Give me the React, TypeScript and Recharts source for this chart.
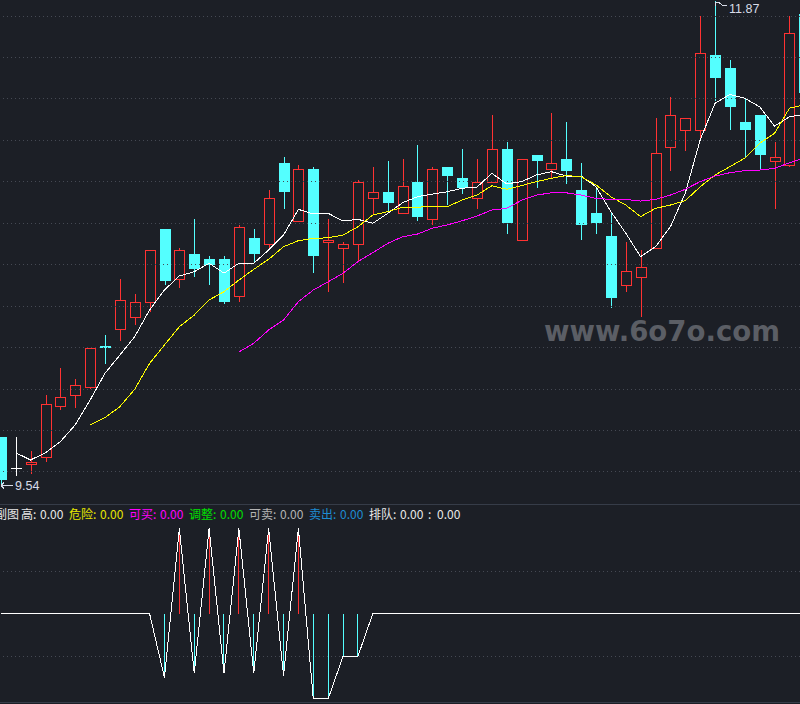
import { ComposedChart, Bar, Line, XAxis, YAxis, ReferenceLine } from 'recharts';

const BG = '#1c1f26';
const GRID_COLOR = '#454953';
const UP = '#ff3232';
const DOWN = '#54ffff';
const FLAT = '#ffffff';
const FRAME = '#363c48';

// daily bars, left to right
const OPEN = [
  9.77, 9.62, 9.64, 9.67, 9.92, 9.97, 10.01, 10.21, 10.29, 10.35, 10.42, 10.77, 10.53, 10.65,
  10.63, 10.63, 10.45, 10.73, 10.7, 11.09, 10.81, 11.06, 10.71, 10.68, 10.7, 10.92, 10.95, 10.85,
  11.0, 10.82, 11.07, 11.02, 10.92, 11.0, 11.16, 10.72, 11.13, 11.06, 11.11, 10.96, 10.85, 10.74,
  10.5, 10.54, 10.68, 11.17, 11.25, 11.25, 11.61, 11.55, 11.29, 11.32, 11.1, 11.08, 11.81,
];
const HIGH = [
  9.77, 9.77, 9.7, 9.97, 10.1, 10.05, 10.2, 10.26, 10.53, 10.46, 10.67, 10.77, 10.68, 10.82,
  10.64, 10.64, 10.79, 10.77, 10.96, 11.12, 11.08, 11.07, 10.82, 10.71, 11.01, 11.07, 11.1, 11.11,
  11.18, 11.07, 11.07, 11.16, 11.11, 11.32, 11.19, 11.11, 11.13, 11.33, 11.29, 11.09, 10.97, 10.85,
  10.71, 10.67, 11.31, 11.41, 11.31, 11.8, 11.87, 11.59, 11.4, 11.32, 11.19, 11.8, 11.83,
];
const LOW = [
  9.54, 9.58, 9.59, 9.65, 9.9, 9.91, 10.0, 10.12, 10.23, 10.31, 10.37, 10.5, 10.49, 10.54,
  10.5, 10.41, 10.42, 10.61, 10.68, 10.87, 10.81, 10.56, 10.47, 10.51, 10.62, 10.84, 10.85, 10.85,
  10.81, 10.79, 10.89, 10.94, 10.87, 11.0, 10.75, 10.72, 10.97, 11.02, 10.99, 10.72, 10.75, 10.39,
  10.47, 10.35, 10.68, 11.05, 11.15, 11.21, 11.39, 11.25, 11.12, 11.06, 10.87, 11.07, 11.4,
];
const CLOSE = [
  9.56, 9.62, 9.65, 9.93, 9.96, 10.02, 10.2, 10.2, 10.43, 10.42, 10.67, 10.52, 10.67, 10.58,
  10.6, 10.42, 10.78, 10.65, 10.92, 10.95, 11.06, 10.64, 10.72, 10.7, 11.0, 10.95, 10.9, 10.98,
  10.83, 11.06, 11.03, 10.97, 11.0, 11.16, 10.8, 11.11, 11.1, 11.09, 11.05, 10.79, 10.8, 10.44,
  10.57, 10.59, 11.14, 11.32, 11.31, 11.62, 11.5, 11.36, 11.25, 11.13, 11.12, 11.72, 11.43,
];

// the three average lines
const LINE_WHITE = [
  null, 9.693, 9.658, 9.693, 9.746, 9.827, 9.947, 10.076, 10.164, 10.253, 10.382, 10.478, 10.546,
  10.566, 10.607, 10.559, 10.607, 10.607, 10.671, 10.743, 10.867, 10.845, 10.848, 10.811, 10.819,
  10.8, 10.848, 10.899, 10.928, 10.941, 10.952, 10.969, 10.974, 11.041, 10.99, 11.001, 11.033,
  11.049, 11.028, 11.028, 10.976, 10.856, 10.752, 10.639, 10.687, 10.783, 10.945, 11.202, 11.379,
  11.422, 11.403, 11.362, 11.269, 11.314, 11.325,
];
const LINE_YELLOW = [
  null, null, null, null, null, null, 9.827, 9.862, 9.915, 9.999, 10.124, 10.213, 10.301, 10.357,
  10.43, 10.47, 10.526, 10.578, 10.626, 10.687, 10.716, 10.727, 10.73, 10.743, 10.783, 10.84,
  10.856, 10.877, 10.877, 10.883, 10.88, 10.912, 10.936, 10.981, 10.964, 10.982, 11.001, 11.017,
  11.03, 11.025, 10.985, 10.928, 10.888, 10.832, 10.872, 10.888, 10.909, 10.976, 11.033, 11.073,
  11.114, 11.186, 11.234, 11.355, 11.372,
];
const LINE_PINK = [
  null, null, null, null, null, null, null, null, null, null, null, null, null, null, null, null,
  10.179, 10.221, 10.285, 10.333, 10.422, 10.478, 10.518, 10.559, 10.615, 10.658, 10.703, 10.735,
  10.748, 10.776, 10.792, 10.812, 10.835, 10.864, 10.872, 10.911, 10.936, 10.947, 10.947, 10.936,
  10.92, 10.915, 10.915, 10.907, 10.915, 10.936, 10.964, 11.001, 11.028, 11.044, 11.054, 11.057,
  11.065, 11.092, 11.116,
];

const GRID_PRICES = [9.6, 9.8, 10.0, 10.2, 10.4, 10.6, 10.8, 11.0, 11.2, 11.4, 11.6, 11.8];

// sub-chart oscillator + sticks
const OSC = [
  0, 0, 0, 0, 0, 0, 0, 0, 0, 0, 0, -1.5, 2.0, -1.4, 2.0, -1.4, 2.0, -1.4, 2.0, -1.45, 2.0, -2.0,
  -2.0, -1.0, -1.0, 0, 0, 0, 0, 0, 0, 0, 0, 0, 0, 0, 0, 0, 0, 0, 0, 0, 0, 0, 0, 0, 0, 0, 0, 0, 0,
  0, 0, 0, 0,
];
const STICK = [
  null, null, null, null, null, null, null, null, null, null, null, -1.4, 1.89, -1.4, 1.89, -1.4,
  1.89, -1.4, 1.89, -1.4, 1.89, -2.0, -2.0, -1.0, -1.0,
];

const LEGEND_LABELS = ['副图', '高:', '危险:', '可买:', '调整:', '可卖:', '卖出:', '排队:'];
const LEGEND_VALUES = ['', '0.00', '0.00', '0.00', '0.00', '0.00', '0.00', '0.00'];
const LEGEND_COLORS = ['#e8e8e8', '#e8e8e8', '#e6e600', '#ff00ff', '#00e000', '#b4b4b4', '#1e8cd2', '#e8e8e8'];
const LEGEND_X = [-5, 21, 69, 129, 189, 249, 309, 369];
const LEGEND_VALUE_X = [0, 40, 100, 160, 220, 280, 340, 400];

const LOW_LABEL = '9.54';
const HIGH_LABEL = '11.87';
const WATERMARK = 'www.6o7o.com';

const X_DOMAIN: [number, number] = [-0.0538, 53.71];
const MAIN_H = 504;
const SUB_H = 198;

const mainRows = OPEN.map((o, i) => ({
  i,
  range: [LOW[i], HIGH[i]],
  o,
  h: HIGH[i],
  l: LOW[i],
  c: CLOSE[i],
  w: LINE_WHITE[i],
  y: LINE_YELLOW[i],
  m: LINE_PINK[i],
}));

const subRows = OSC.map((v, i) => ({ i, osc: v }));

function Candle(props: any) {
  const { x, y, width, height, payload } = props;
  if (x == null || !payload) return null;
  const { o, h, l, c } = payload;
  const top = Math.min(y, y + height);
  const span = Math.abs(height);
  const at = (v: number) => top + ((h - v) / (h - l)) * span;
  const col = Math.round(x + width / 2);
  const cx = col + 0.5;
  const bTop = Math.round(at(Math.max(o, c)));
  const bBot = Math.round(at(Math.min(o, c)));
  if (c > o) {
    return (
      <g shapeRendering="crispEdges">
        <line x1={cx} x2={cx} y1={top} y2={bTop} stroke={UP} />
        <line x1={cx} x2={cx} y1={bBot} y2={top + span} stroke={UP} />
        <rect x={col - 5 + 0.5} y={bTop + 0.5} width={10} height={Math.max(bBot - bTop, 1)} fill={BG} stroke={UP} />
      </g>
    );
  }
  const color = c < o ? DOWN : FLAT;
  return (
    <g shapeRendering="crispEdges">
      <line x1={cx} x2={cx} y1={top} y2={top + span} stroke={color} />
      {c === o ? (
        <line x1={col - 5} x2={col + 6} y1={bTop + 0.5} y2={bTop + 0.5} stroke={color} />
      ) : (
        <rect x={col - 5} y={bTop} width={11} height={Math.max(bBot - bTop, 1)} fill={color} />
      )}
    </g>
  );
}

export default function App() {
  return (
    <div
      style={{
        position: 'absolute',
        left: 0,
        top: 0,
        width: 800,
        height: 704,
        background: BG,
        overflow: 'hidden',
      }}
    >
      <div style={{ position: 'absolute', left: 0, top: 0 }}>
        <ComposedChart width={800} height={MAIN_H} data={mainRows} margin={{ top: 0, right: 0, bottom: 0, left: 0 }}>
          <XAxis dataKey="i" type="number" domain={X_DOMAIN} allowDataOverflow hide />
          <YAxis type="number" domain={[9.4456, 11.8772]} allowDataOverflow hide />
          {GRID_PRICES.map((p) => (
            <ReferenceLine
              key={p}
              y={p}
              stroke={GRID_COLOR}
              strokeDasharray="1 3"
              strokeDashoffset={1}
              shapeRendering="crispEdges"
            />
          ))}
          <Bar dataKey="range" barSize={11} shape={Candle} isAnimationActive={false} />
          <Line dataKey="w" stroke="#ffffff" strokeWidth={1} dot={false} activeDot={false} shapeRendering="crispEdges" isAnimationActive={false} />
          <Line dataKey="y" stroke="#ffff00" strokeWidth={1} dot={false} activeDot={false} shapeRendering="crispEdges" isAnimationActive={false} />
          <Line dataKey="m" stroke="#ff00ff" strokeWidth={1} dot={false} activeDot={false} shapeRendering="crispEdges" isAnimationActive={false} />
        </ComposedChart>
      </div>

      <div style={{ position: 'absolute', left: 0, top: MAIN_H, width: 800, height: 1, background: FRAME }} />

      <div style={{ position: 'absolute', left: 0, top: MAIN_H }}>
        <ComposedChart width={800} height={SUB_H} data={subRows} margin={{ top: 0, right: 0, bottom: 0, left: 0 }}>
          <XAxis dataKey="i" type="number" domain={X_DOMAIN} allowDataOverflow hide />
          <YAxis type="number" domain={[-2.073, 2.575]} allowDataOverflow hide />
          <ReferenceLine y={1} stroke={GRID_COLOR} strokeDasharray="1 3" strokeDashoffset={1} shapeRendering="crispEdges" />
          <ReferenceLine y={-1} stroke={GRID_COLOR} strokeDasharray="1 3" strokeDashoffset={1} shapeRendering="crispEdges" />
          {STICK.map((v, i) =>
            v == null ? null : (
              <ReferenceLine
                key={`s${i}`}
                segment={[
                  { x: i, y: 0 },
                  { x: i, y: v },
                ]}
                stroke={v > 0 ? UP : DOWN}
                strokeWidth={1}
                shapeRendering="crispEdges"
              />
            ),
          )}
          <Line dataKey="osc" stroke="#ffffff" strokeWidth={1} dot={false} activeDot={false} shapeRendering="crispEdges" isAnimationActive={false} />
        </ComposedChart>
      </div>

      <div style={{ position: 'absolute', left: 0, top: 702, width: 800, height: 1, background: FRAME }} />

      <svg
        width={800}
        height={704}
        style={{ position: 'absolute', left: 0, top: 0, pointerEvents: 'none' }}
      >
        <text
          x={544}
          y={341}
          fontFamily="DejaVu Sans, Verdana, sans-serif"
          fontWeight="bold"
          fontSize={28}
          fill="#5b5e65"
          textLength={236}
          lengthAdjust="spacingAndGlyphs"
        >
          {WATERMARK}
        </text>

        <g stroke="#d8dce8" strokeWidth={1} fill="none" shapeRendering="crispEdges">
          <path d="M1,485.5 L13,485.5 M1,485.5 L4,482.5 M1,485.5 L4,488.5" />
          <path d="M715.5,2 L715.5,6 M715.5,2.5 L719,2.5 L722,5 L727,6" />
        </g>
        <text x={15} y={490} fontFamily="Liberation Sans, Arial, sans-serif" fontSize={12.5} fill="#d8dce8">
          {LOW_LABEL}
        </text>
        <text x={729} y={13} fontFamily="Liberation Sans, Arial, sans-serif" fontSize={12.5} fill="#d8dce8">
          {HIGH_LABEL}
        </text>

        <g fontFamily="Noto Sans CJK SC, sans-serif" fontSize={12}>
          {LEGEND_LABELS.map((t, k) => (
            <text key={t} x={LEGEND_X[k]} y={519} fill={LEGEND_COLORS[k]}>
              {t}
            </text>
          ))}
          {LEGEND_VALUES.map((t, k) =>
            t ? (
              <text key={`v${k}`} x={LEGEND_VALUE_X[k]} y={519} fill={LEGEND_COLORS[k]}>
                {t}
              </text>
            ) : null,
          )}
          <text x={428} y={519} fill="#e8e8e8">:</text>
          <text x={437} y={519} fill="#e8e8e8">0.00</text>
        </g>
      </svg>
    </div>
  );
}
